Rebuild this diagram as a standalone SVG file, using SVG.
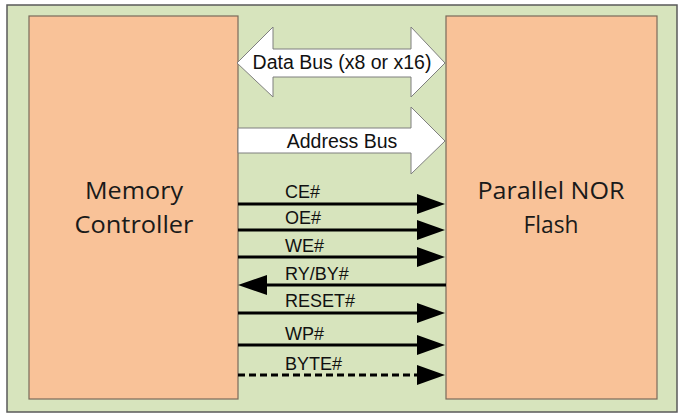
<svg xmlns="http://www.w3.org/2000/svg" width="683" height="418" viewBox="0 0 683 418">
<defs>
<style>
.frame{fill:#d7e4bd;stroke:#5a5a5a;stroke-width:1.5}
.box{fill:#f9c298;stroke:#7a6a5a;stroke-width:1.2}
.bus{fill:#ffffff;stroke:#7f7f7f;stroke-width:1}
.big{font-family:"Open Sans","Liberation Sans",sans-serif;font-size:23px;fill:#1a1a1a;text-anchor:middle}
.lbl{font-family:"Liberation Sans",Arial,sans-serif;font-size:18px;fill:#111}
.buslbl{font-family:"Liberation Sans",Arial,sans-serif;font-size:19.5px;fill:#111;text-anchor:middle}
.sig{stroke:#000;stroke-width:3;fill:none}
.dash{stroke-dasharray:7 4}
.head{fill:#000}
</style>
</defs>
<rect class="frame" x="7" y="5" width="670" height="407"/>
<g id="memory-controller">
<rect class="box" x="29" y="16" width="209" height="383"/>
<text class="big" x="134" y="199" textLength="98" lengthAdjust="spacingAndGlyphs">Memory</text>
<text class="big" x="134" y="233" textLength="119" lengthAdjust="spacingAndGlyphs">Controller</text>
</g>
<g id="nor-flash">
<rect class="box" x="446" y="16" width="211" height="383"/>
<text class="big" x="551" y="199" textLength="147" lengthAdjust="spacingAndGlyphs">Parallel NOR</text>
<text class="big" x="551" y="233" textLength="55" lengthAdjust="spacingAndGlyphs">Flash</text>
</g>
<g id="connectors">
<g id="data-bus">
<polygon class="bus" points="237,63 273,27 273,49 411,49 411,27 445,63 411,97 411,77 273,77 273,97"/>
<text class="buslbl" x="342" y="69">Data Bus (x8 or x16)</text>
</g>
<g id="address-bus">
<polygon class="bus" points="238,128 411,128 411,107 445,141 411,174 411,153 238,153"/>
<text class="buslbl" x="342" y="148">Address Bus</text>
</g>
<g id="ce">
<line class="sig" x1="238" y1="204" x2="420" y2="204"/>
<polygon class="head" points="417,194 445,204 417,214"/>
<text class="lbl" x="285" y="198">CE#</text>
</g>
<g id="oe">
<line class="sig" x1="238" y1="230" x2="420" y2="230"/>
<polygon class="head" points="417,220 445,230 417,240"/>
<text class="lbl" x="285" y="224">OE#</text>
</g>
<g id="we">
<line class="sig" x1="238" y1="257" x2="420" y2="257"/>
<polygon class="head" points="417,247 445,257 417,267"/>
<text class="lbl" x="285" y="252">WE#</text>
</g>
<g id="ryby">
<line class="sig" x1="264" y1="285" x2="446" y2="285"/>
<polygon class="head" points="267,275 238,285 267,295"/>
<text class="lbl" x="285" y="280">RY/BY#</text>
</g>
<g id="reset">
<line class="sig" x1="238" y1="313" x2="420" y2="313"/>
<polygon class="head" points="417,303 445,313 417,323"/>
<text class="lbl" x="285" y="307">RESET#</text>
</g>
<g id="wp">
<line class="sig" x1="238" y1="345" x2="420" y2="345"/>
<polygon class="head" points="417,335 445,345 417,355"/>
<text class="lbl" x="285" y="340">WP#</text>
</g>
<g id="byte">
<line class="sig dash" x1="238" y1="375" x2="418" y2="375"/>
<polygon class="head" points="417,365 445,375 417,385"/>
<text class="lbl" x="285" y="370">BYTE#</text>
</g>
</g>
</svg>
